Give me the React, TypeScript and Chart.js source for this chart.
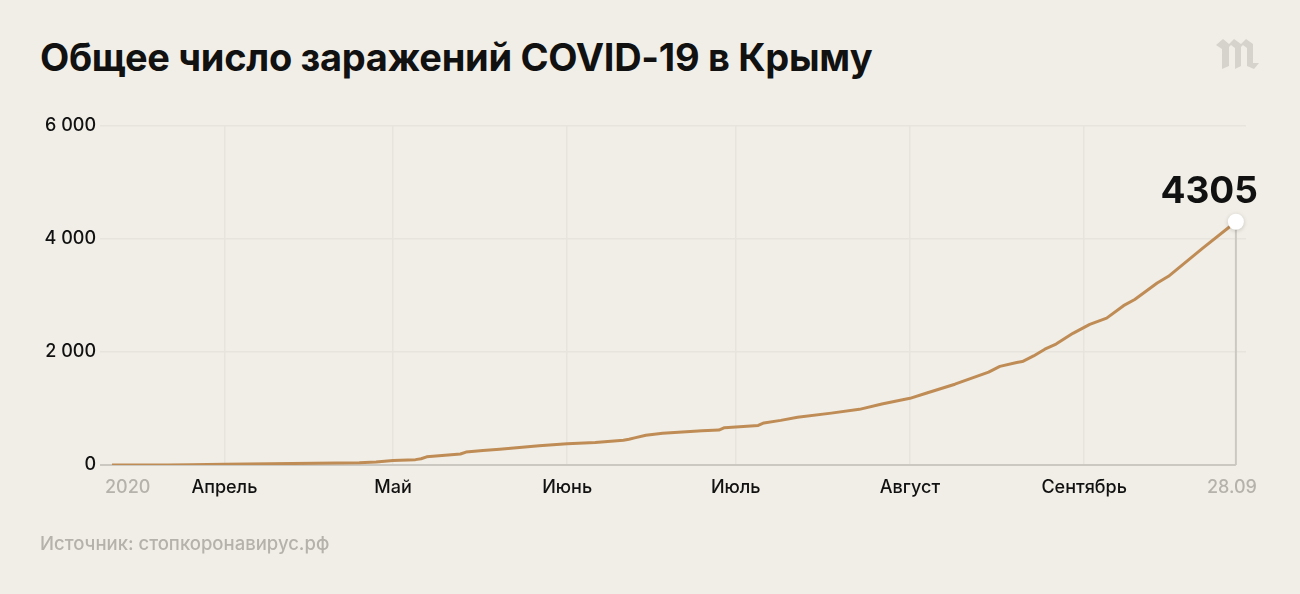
import React, { useEffect, useRef } from "react";
import { Chart, registerables } from "chart.js";
Chart.register(...registerables);

const TITLE = "Общее число заражений COVID-19 в Крыму";
const SOURCE = "Источник: стопкоронавирус.рф";

// day offsets relative to 1 April 2020
const days = [-20, -14, -12, -10, -6, -3, 0, 4, 8, 12, 16, 20, 24, 27, 29, 30, 34, 35, 36, 42, 43, 46, 49, 52, 56, 61, 66, 71, 72, 73, 75, 78, 85, 88, 89, 95, 96, 99, 102, 108, 113, 117, 122, 125, 130, 136, 138, 141, 142, 144, 146, 148, 151, 154, 157, 160, 162, 166, 168, 174, 179, 180];
const cases = [0, 0, 1, 2, 5, 9, 15, 18, 22, 26, 30, 34, 40, 52, 72, 80, 95, 110, 145, 195, 228, 255, 280, 305, 340, 378, 400, 438, 455, 480, 527, 560, 605, 618, 660, 700, 745, 790, 845, 918, 985, 1080, 1180, 1275, 1430, 1645, 1745, 1815, 1830, 1930, 2050, 2140, 2330, 2490, 2600, 2820, 2930, 3220, 3340, 3830, 4226, 4305];

const monthTickDays = [0, 30, 61, 91, 122, 153];
const monthLabels = ["Апрель", "Май", "Июнь", "Июль", "Август", "Сентябрь"];
const yTicks = [0, 2000, 4000, 6000];
const startLabel = "2020";
const endLabel = "28.09";
const endValueLabel = "4305";

const FONT = "Inter, 'Noto Sans', sans-serif";
const BG = "#f1eee7";
const LINE = "#bf8c56";
const GRID = "#e7e4dd";
const AXIS = "#cbc8c1";
const GRAY_TEXT = "#b4b2ab";

const fmt = (v: number) => String(v).replace(/\B(?=(\d{3})+(?!\d))/g, " ");

export default function App() {
  const ref = useRef<HTMLCanvasElement | null>(null);
  useEffect(() => {
    document.body.style.margin = "0";
    document.body.style.background = BG;
    const canvas = ref.current!;
    const last = days.length - 1;
    const decor = {
      id: "decor",
      beforeDatasetsDraw(chart: any) {
        const { ctx, scales, chartArea } = chart;
        const xs = scales.x, ys = scales.y;
        const xEnd = xs.getPixelForValue(days[last]);
        const y0 = ys.getPixelForValue(0);
        const yEnd = ys.getPixelForValue(cases[last]);
        ctx.save();
        ctx.strokeStyle = AXIS;
        ctx.lineWidth = 2;
        ctx.beginPath();
        ctx.moveTo(chartArea.left - 12, y0);
        ctx.lineTo(xEnd, y0);
        ctx.moveTo(xEnd, y0);
        ctx.lineTo(xEnd, yEnd);
        ctx.stroke();
        ctx.restore();
      },
      afterDatasetsDraw(chart: any) {
        const { ctx, scales } = chart;
        const xs = scales.x, ys = scales.y;
        const xStart = xs.getPixelForValue(days[0]);
        const xEnd = xs.getPixelForValue(days[last]);
        const yEnd = ys.getPixelForValue(cases[last]);
        ctx.save();
        ctx.shadowColor = "rgba(0,0,0,0.18)";
        ctx.shadowBlur = 4;
        ctx.shadowOffsetY = 1;
        ctx.fillStyle = "#ffffff";
        ctx.beginPath();
        ctx.arc(xEnd, yEnd, 8, 0, Math.PI * 2);
        ctx.fill();
        ctx.restore();
        ctx.save();
        ctx.fillStyle = "#111";
        ctx.font = `700 37px ${FONT}`;
        ctx.textAlign = "right";
        ctx.textBaseline = "alphabetic";
        ctx.fillText(endValueLabel, xEnd + 22, yEnd - 19);
        ctx.font = `500 18px ${FONT}`;
        ctx.fillStyle = GRAY_TEXT;
        ctx.textAlign = "left";
        ctx.fillText(startLabel, xStart - 7, 493);
        ctx.textAlign = "center";
        ctx.fillText(endLabel, xEnd - 4, 493);
        ctx.restore();
      },
    };
    const chart = new Chart(canvas, {
      type: "line",
      data: {
        datasets: [
          {
            data: days.map((d, i) => ({ x: d, y: cases[i] })),
            borderColor: LINE,
            borderWidth: 3,
            pointRadius: 0,
            tension: 0,
            borderCapStyle: "round",
            borderJoinStyle: "round",
            fill: false,
          },
        ],
      },
      options: {
        animation: false,
        responsive: false,
        maintainAspectRatio: false,
        layout: { padding: { top: 126, right: 1300 - 1246, bottom: 89, left: 0 } },
        plugins: { legend: { display: false }, tooltip: { enabled: false } },
        scales: {
          x: {
            type: "linear",
            min: -20,
            max: 181.8,
            afterBuildTicks: (s: any) => {
              s.ticks = monthTickDays.map((v) => ({ value: v }));
            },
            afterFit: (s: any) => {
              s.height = 40;
            },
            ticks: {
              autoSkip: false,
              maxRotation: 0,
              padding: 12,
              color: "#111",
              font: { family: FONT, size: 18, weight: "500" },
              callback: (v: any) => {
                const i = monthTickDays.indexOf(Number(v));
                return i >= 0 ? monthLabels[i] : "";
              },
            },
            grid: { color: GRID, lineWidth: 1.5, drawTicks: false },
            border: { display: false },
          },
          y: {
            min: 0,
            max: 6000,
            afterBuildTicks: (s: any) => {
              s.ticks = yTicks.map((v) => ({ value: v }));
            },
            afterFit: (s: any) => {
              s.width = 112;
            },
            ticks: {
              padding: 4,
              color: "#111",
              font: { family: FONT, size: 18, weight: "500" },
              callback: (v: any) => fmt(Number(v)),
            },
            grid: {
              color: (c: any) => (c.tick && c.tick.value === 0 ? "rgba(0,0,0,0)" : GRID),
              tickLength: 12,
              lineWidth: 1.5,
            },
            border: { display: false },
          },
        },
      },
      plugins: [decor],
    } as any);
    return () => chart.destroy();
  }, []);

  return (
    <div style={{ position: "relative", width: 1300, height: 594, background: BG, overflow: "hidden" }}>
      <div
        style={{
          position: "absolute",
          left: 40,
          top: 38,
          fontFamily: FONT,
          fontWeight: 700,
          fontSize: 38,
          lineHeight: "38px",
          letterSpacing: "-0.3px",
          color: "#111",
          whiteSpace: "nowrap",
        }}
      >
        {TITLE}
      </div>
      <svg
        style={{ position: "absolute", left: 1216, top: 39 }}
        width={44}
        height={30}
        viewBox="0 0 44 30"
      >
        <path
          d="M0 6 L7 0 L13 5 L18 0 L25 5 L30 0 L37 5 L37 24 L43 24 L38 30 L31 27 L31 9 L27 6 L25 8 L25 27 L19 30 L19 9 L15 6 L13 8 L13 27 L6 30 L6 10 Z"
          fill="#d6d3cc"
        />
      </svg>
      <canvas ref={ref} width={1300} height={594} style={{ position: "absolute", left: 0, top: 0, display: "block" }} />
      <div
        style={{
          position: "absolute",
          left: 40,
          top: 532,
          fontFamily: FONT,
          fontWeight: 500,
          fontSize: 18.5,
          lineHeight: "22px",
          color: GRAY_TEXT,
          whiteSpace: "nowrap",
        }}
      >
        {SOURCE}
      </div>
    </div>
  );
}
